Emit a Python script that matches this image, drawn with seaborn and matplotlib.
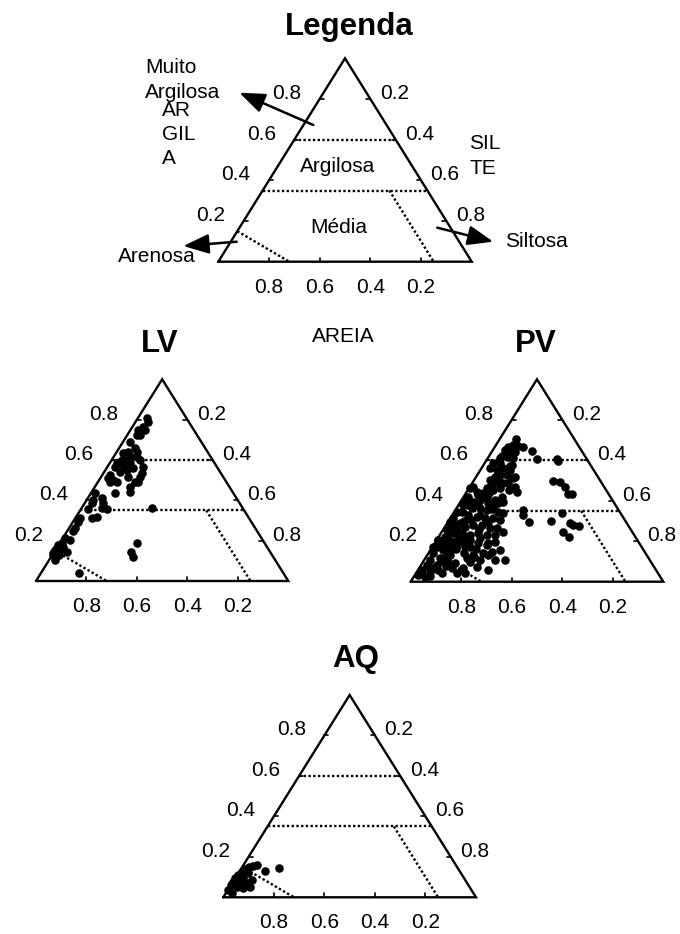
import numpy as np
import pandas as pd
import matplotlib
matplotlib.use("Agg")
import matplotlib.pyplot as plt
import seaborn as sns

sns.set_theme(style="white")
plt.rcParams["font.family"] = ["Liberation Sans", "DejaVu Sans"]
plt.rcParams["text.color"] = "black"

# ---------------- data (fractions) ----------------
lv_argila = [.807, .79, .765, .749, .749, .724, .724, .691, .658, .641,
             .641, .633, .617, .617, .60, .60, .583, .575, .583, .60,
             .559, .567, .534, .517, .493, .493, .517, .55, .542, .567,
             .526, .509, .501, .493, .493, .468, .443, .435, .435, .41,
             .402, .385, .385, .36, .355, .355, .364, .319, .311, .311,
             .294, .261, .25, .203, .212, .187, .179, .162, .154, .137,
             .129, .17, .145, .154, .104, .129, .187, .145, .121, .041]
lv_areia = [.158, .16, .192, .22, .194, .239, .226, .282, .279, .28,
            .313, .337, .313, .293, .341, .36, .388, .366, .336, .288,
            .335, .291, .313, .329, .362, .349, .376, .366, .396, .404,
            .444, .459, .444, .434, .46, .394, .407, .47, .548, .535,
            .572, .54, .587, .56, .542, .615, .36, .6, .624, .67,
            .685, .715, .727, .764, .779, .805, .822, .837, .848, .863,
            .87, .807, .806, .828, .873, .846, .508, .551, .554, .809]

pv_argila = [.703, .675, .667, .67, .667, .642, .642, .646, .618, .61,
             .605, .605, .598, .577, .585, .585, .56, .552, .56, .527,
             .527, .519, .502, .494, .486, .486, .511, .47, .445, .453,
             .461, .453, .461, .437, .47, .461, .445, .42, .395, .404,
             .412, .404, .395, .371, .346, .354, .362, .362, .379, .346,
             .329, .321, .313, .313, .305, .313, .297, .28, .272, .28,
             .28, .264, .264, .247, .231, .231, .239, .231, .239, .239,
             .255, .222, .206, .189, .173, .189, .198, .181, .165, .157,
             .189, .173, .189, .181, .198, .157, .148, .14, .132, .115,
             .099, .107, .107, .107, .058, .074, .066, .066, .041, .041,
             .099, .115, .14, .107, .082, .066, .058, .033, .025, .082,
             .041, .206, .173, .222, .206, .206, .214, .297, .305, .288,
             .346, .379, .379, .387, .387, .338, .519, .61, .354, .329,
             .297, .301, .338, .499, .491, .47, .432, .432, .288, .28,
             .275, .247, .222, .25, .22, .20, .18, .16, .15, .13,
             .12, .10, .09, .08, .06, .05, .03, .27, .26, .33,
             .36, .42, .44, .48, .50, .55, .57, .62, .65, .43,
             .40, .30, .28, .22, .17, .14, .12, .13, .16, .19]
pv_areia = [.231, .256, .28, .239, .221, .286, .266, .198, .304, .289,
            .199, .12, .117, .312, .354, .38, .353, .384, .406, .383,
            .357, .406, .435, .406, .39, .37, .338, .352, .358, .386,
            .415, .446, .469, .494, .517, .535, .517, .562, .554, .524,
            .493, .464, .436, .488, .48, .522, .545, .578, .603, .625,
            .607, .578, .55, .517, .494, .675, .696, .678, .649, .612,
            .579, .554, .528, .51, .551, .584, .613, .65, .679, .711,
            .73, .753, .787, .783, .811, .764, .739, .727, .761, .792,
            .69, .678, .638, .608, .567, .568, .606, .642, .686, .72,
            .716, .672, .612, .573, .664, .702, .759, .805, .797, .765,
            .802, .826, .84, .87, .896, .884, .927, .953, .931, .856,
            .857, .79, .827, .74, .702, .662, .619, .545, .607, .661,
            .645, .583, .543, .50, .46, .464, .328, .341, .377, .389,
            .382, .295, .233, .186, .164, .154, .16, .147, .225, .216,
            .198, .273, .261, .70, .70, .72, .75, .74, .77, .78,
            .80, .83, .78, .82, .86, .90, .91, .68, .60, .56,
            .50, .43, .47, .44, .40, .33, .32, .33, .30, .52,
            .58, .64, .70, .67, .70, .72, .69, .63, .66, .60]

aq_argila = [.16, .155, .148, .138, .127, .11, .094, .077, .061, .036,
             .02, .053, .069, .044, .069, .086, .053, .094, .099, .122,
             .132, .143, .069]
aq_areia = [.788, .804, .823, .845, .864, .886, .907, .922, .939, .964,
            .957, .921, .90, .901, .873, .845, .868, .874, .885, .84,
            .769, .708, .919]

tick_vals = [0.2, 0.4, 0.6, 0.8]
tick_labels = ["0.2", "0.4", "0.6", "0.8"]

# class limits
lim_muito_argilosa = 0.60
lim_argilosa = 0.35
arenosa_argila = [0.15, 0.0]
arenosa_areia = [0.85, 0.72]
siltosa_argila = [0.35, 0.0]
siltosa_areia = [0.15, 0.15]

# ---------------- helpers ----------------
FW, FH = 680, 934
fig = plt.figure(figsize=(FW / 100, FH / 100), dpi=100)

overlay = fig.add_axes([0, 0, 1, 1])
overlay.set_xlim(0, FW)
overlay.set_ylim(FH, 0)
overlay.axis("off")


def tern_x(argila, areia):
    argila = np.asarray(argila, float)
    areia = np.asarray(areia, float)
    return 1 - areia - argila / 2


TXT = 15
TITLE = 22.5
LW = 1.7


def draw_triangle(left, base, w, h, argila=None, areia=None):
    ax = fig.add_axes([left / FW, 1 - base / FH, w / FW, h / FH])
    ax.set_xlim(0, 1)
    ax.set_ylim(0, 1)
    ax.axis("off")
    ax.plot([0, 1, 0.5, 0], [0, 0, 1, 0], color="black", lw=LW,
            clip_on=False, solid_joinstyle="miter", zorder=3)
    dx, dy = 4 / w, 4 / h
    for t, lab in zip(tick_vals, tick_labels):
        # left edge (argila)
        ax.plot([t / 2, t / 2 + dx], [t, t], color="black", lw=1.2, zorder=3)
        ax.annotate(lab, xy=(t / 2, t), xytext=(-33, 0), textcoords="offset pixels",
                    ha="center", va="baseline", fontsize=TXT, color="black")
        # right edge (silte)
        ax.plot([1 - t / 2, 1 - t / 2 - dx], [t, t], color="black", lw=1.2, zorder=3)
        ax.annotate(f"{1 - t:.1f}", xy=(1 - t / 2, t), xytext=(24, 0),
                    textcoords="offset pixels", ha="center", va="baseline",
                    fontsize=TXT, color="black")
        # bottom (areia)
        ax.plot([1 - t, 1 - t], [0, dy], color="black", lw=1.2, zorder=3)
        ax.annotate(lab, xy=(1 - t, 0), xytext=(0, -31), textcoords="offset pixels",
                    ha="center", va="baseline", fontsize=TXT, color="black")
    dots = dict(color="black", lw=1.7, linestyle=(0, (1, 1.0)), zorder=2)
    for c in (lim_muito_argilosa, lim_argilosa):
        ax.plot(tern_x([c, c], [1 - c, 0]), [c, c], **dots)
    ax.plot(tern_x(arenosa_argila, arenosa_areia), arenosa_argila, **dots)
    ax.plot(tern_x(siltosa_argila, siltosa_areia), siltosa_argila, **dots)
    if argila is not None:
        df = pd.DataFrame({"argila": argila, "areia": areia})
        df["x"] = tern_x(df["argila"], df["areia"])
        sns.scatterplot(data=df, x="x", y="argila", ax=ax, color="black",
                        s=38, linewidth=0, legend=False, zorder=4, clip_on=False)
        ax.set_xlim(0, 1)
        ax.set_ylim(0, 1)
        ax.axis("off")
    return ax


# Legend triangle
draw_triangle(218.3, 261.7, 253.4, 203.4)
draw_triangle(36.0, 581.0, 252.3, 201.7, lv_argila, lv_areia)
draw_triangle(410.7, 581.7, 252.6, 202.4, pv_argila, pv_areia)
draw_triangle(223.3, 897.3, 252.7, 202.3, aq_argila, aq_areia)

# Titles
for txt, x, y in [("Legenda", 349, 35), ("LV", 160, 351.7),
                  ("PV", 536, 351.7), ("AQ", 356, 666.7)]:
    overlay.text(x, y, txt, ha="center", va="baseline", fontsize=TITLE,
                 fontweight="bold", color="black")

# Legend annotations
for txt, x, y, ha in [("Muito", 145, 72.7, "left"), ("Argilosa", 145, 97.7, "left"),
                      ("AR", 161.7, 116, "left"), ("GIL", 161.7, 140, "left"),
                      ("A", 161.7, 164.3, "left"),
                      ("SIL", 469.3, 149, "left"), ("TE", 469.3, 174, "left"),
                      ("Argilosa", 338, 172.3, "center"), ("Média", 338.7, 233.3, "center"),
                      ("Arenosa", 118.3, 261.7, "left"), ("Siltosa", 505, 247.3, "left"),
                      ("AREIA", 343.3, 341.7, "center")]:
    overlay.text(x, y, txt, ha=ha, va="baseline", fontsize=TXT, color="black")

arrow = dict(arrowstyle="-|>,head_length=1.3,head_width=0.5", mutation_scale=12,
             color="black", lw=1.8, shrinkA=0, shrinkB=0)
for (x0, y0), (x1, y1) in [((313.3, 125), (239.3, 92.7)),
                           ((236.7, 241.7), (183.3, 246)),
                           ((437.3, 227.7), (493.3, 241.7))]:
    overlay.annotate("", xy=(x1, y1), xytext=(x0, y0), arrowprops=arrow)

fig.savefig("out.png", dpi=100)
